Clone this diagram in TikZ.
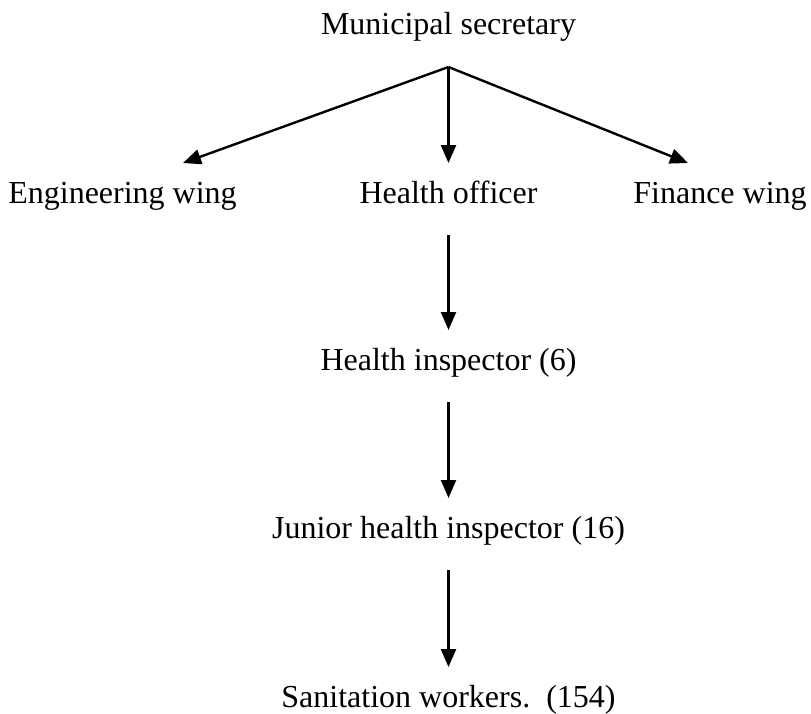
\documentclass[tikz,border=0pt]{standalone}
\usepackage{fontspec}
\setmainfont{Liberation Serif}
\usetikzlibrary{arrows.meta}
\begin{document}
\begin{tikzpicture}[x=1pt,y=-1pt,
  lbl/.style={anchor=base,inner sep=0pt,font=\fontsize{32}{38}\selectfont},
  arr/.style={line width=2.4pt,-{Triangle[length=18pt,width=15pt]}}]
\useasboundingbox (0,0) rectangle (811,713);
\node[lbl] (ms) at (448.5,34) {Municipal secretary};
\node[lbl] (eng) at (122.5,203) {Engineering wing};
\node[lbl] (ho) at (448.5,203) {Health officer};
\node[lbl] (fin) at (720,203) {Finance wing};
\node[lbl] (hi) at (448.5,370) {Health inspector (6)};
\node[lbl] (jhi) at (448.5,538) {Junior health inspector (16)};
\node[lbl] (sw) at (448.5,707) {Sanitation workers.\ \ (154)};
\coordinate (apex) at ([yshift=-33pt]ms.base);
\coordinate (engtip) at (183,163);
\coordinate (fintip) at (688,163);
\draw[arr] (apex) -- (engtip);
\draw[arr] (apex) -- ([yshift=40pt]ho.base);
\draw[arr] (apex) -- (fintip);
\draw[arr] ([yshift=-32pt]ho.base) -- ([yshift=40pt]hi.base);
\draw[arr] ([yshift=-32pt]hi.base) -- ([yshift=40pt]jhi.base);
\draw[arr] ([yshift=-32pt]jhi.base) -- ([yshift=40pt]sw.base);
\end{tikzpicture}
\end{document}
